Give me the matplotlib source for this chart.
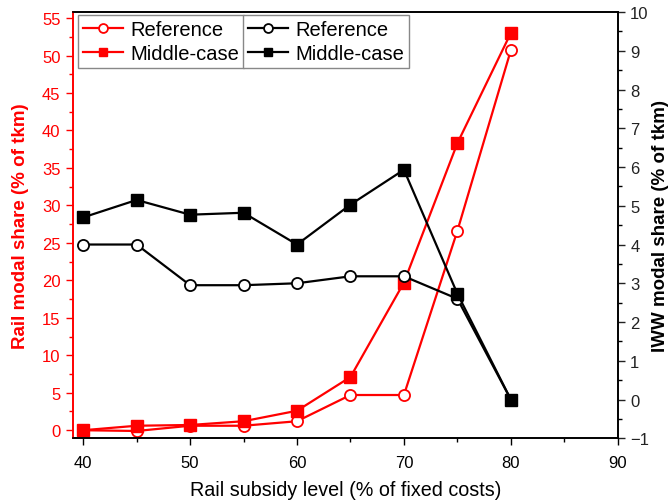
import matplotlib
matplotlib.use("Agg")
import matplotlib.pyplot as plt
from matplotlib.ticker import MultipleLocator

plt.rcParams['font.family'] = ['Liberation Sans', 'DejaVu Sans']

subsidy = [40, 45, 50, 55, 60, 65, 70, 75, 80]
rail_ref = [0.0, -0.1, 0.6, 0.6, 1.2, 4.7, 4.7, 26.6, 50.7]
rail_mid = [0.0, 0.6, 0.7, 1.2, 2.6, 7.1, 19.7, 38.3, 53.0]
iww_ref = [4.0, 4.0, 2.95, 2.95, 3.0, 3.18, 3.18, 2.6, 0.0]
iww_mid = [4.7, 5.15, 4.77, 4.82, 4.0, 5.03, 5.93, 2.73, 0.0]

red = '#ff0000'

fig, ax1 = plt.subplots(figsize=(6.7, 5.02), dpi=100)
fig.subplots_adjust(left=0.109, right=0.922, top=0.974, bottom=0.125)
ax2 = ax1.twinx()

l1, = ax1.plot(subsidy, rail_ref, color=red, lw=1.6, marker='o', ms=8,
               mfc='white', mec=red, mew=1.3, label='Reference')
l2, = ax1.plot(subsidy, rail_mid, color=red, lw=1.6, marker='s', ms=8,
               mfc=red, mec=red, label='Middle-case')
l3, = ax2.plot(subsidy, iww_ref, color='black', lw=1.6, marker='o', ms=8,
               mfc='white', mec='black', mew=1.3, label='Reference')
l4, = ax2.plot(subsidy, iww_mid, color='black', lw=1.6, marker='s', ms=8,
               mfc='black', mec='black', label='Middle-case')

ax1.set_xlim(39.05, 90)
ax1.set_ylim(-1.07, 55.8)
ax2.set_ylim(-1, 10)

ax1.xaxis.set_major_locator(MultipleLocator(10))
ax1.xaxis.set_minor_locator(MultipleLocator(5))
ax1.yaxis.set_major_locator(MultipleLocator(5))
ax1.yaxis.set_minor_locator(MultipleLocator(2.5))
ax2.yaxis.set_major_locator(MultipleLocator(1))
ax2.yaxis.set_minor_locator(MultipleLocator(0.5))

for ax in (ax1, ax2):
    ax.tick_params(which='major', length=5, width=1, labelsize=12, pad=4)
    ax.tick_params(which='minor', length=3, width=1)
    for s in ax.spines.values():
        s.set_linewidth(1.2)
ax1.tick_params(axis='x', pad=7)

ax1.tick_params(axis='y', which='both', colors=red, labelcolor=red)
ax2.spines['left'].set_color(red)
ax1.spines['left'].set_color(red)
ax2.tick_params(axis='y', colors='#222222')

ax1.set_xlabel('Rail subsidy level (% of fixed costs)', fontsize=14.2,
               labelpad=7)
ax1.set_ylabel('Rail modal share (% of tkm)', fontsize=13.5,
               fontweight='bold', color=red, labelpad=9)
ax2.set_ylabel('IWW modal share (% of tkm)', fontsize=13.5, fontweight='bold',
               labelpad=2)

leg_kw = dict(loc='upper left', fontsize=14.5, fancybox=False,
              edgecolor='#888888', handlelength=2.0, handletextpad=0.35,
              borderpad=0.25, labelspacing=0.25, borderaxespad=0,
              markerscale=0.8, framealpha=1)
leg1 = ax2.legend(handles=[l1, l2], bbox_to_anchor=(0.009, 0.993), **leg_kw)
ax2.add_artist(leg1)
ax2.legend(handles=[l3, l4], bbox_to_anchor=(0.312, 0.993), **leg_kw)

fig.savefig('out.png', dpi=100)
